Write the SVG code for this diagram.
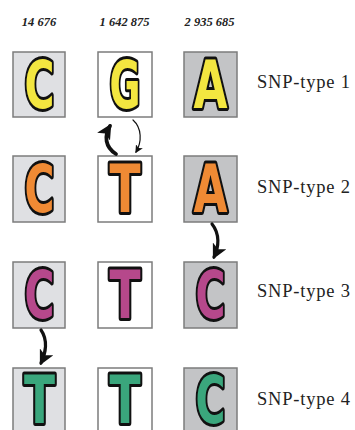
<svg xmlns="http://www.w3.org/2000/svg" width="355" height="430" viewBox="0 0 355 430">
<defs>
<style>
.box{stroke:#7c7c7c;stroke-width:1.5}
.c1{fill:#dfe0e3}
.c2{fill:#ffffff}
.c3{fill:#c3c4c6}
.let{font-family:"DejaVu Sans",sans-serif;font-weight:bold;font-size:66px;text-anchor:middle;stroke:#111;stroke-width:6;stroke-linejoin:round;paint-order:stroke}
.y{fill:#f3e640}
.o{fill:#ef8a34}
.m{fill:#b6488b}
.g{fill:#3aa67c}
.pos{font-weight:bold;font-style:italic;font-size:12.5px;text-anchor:middle;fill:#222}
.lab{font-size:18.5px;fill:#222}
.arr{fill:none;stroke:#111;stroke-linecap:round}
</style>
<marker id="hd" markerUnits="userSpaceOnUse" markerWidth="15" markerHeight="15" viewBox="0 0 12 12" refX="10" refY="6" orient="auto">
<path d="M0,0 L12,6 L0,12 L3,6 z" fill="#111"/>
</marker>
<marker id="hs" markerUnits="userSpaceOnUse" markerWidth="8" markerHeight="8" viewBox="0 0 12 12" refX="10" refY="6" orient="auto">
<path d="M0,0 L12,6 L0,12 L3,6 z" fill="#111"/>
</marker>
</defs>
<rect width="355" height="430" fill="#ffffff"/>
<g id="positions" font-family="'Liberation Serif', 'Times New Roman', 'DejaVu Serif', serif">
<text class="pos" x="39" y="26">14 676</text>
<text class="pos" x="124.5" y="26">1 642 875</text>
<text class="pos" x="209.5" y="26">2 935 685</text>
</g>
<g id="row1">
<g id="r1c1"><rect class="box c1" x="13" y="52" width="52" height="65"/><text class="let y" x="39.5" y="108" textLength="30" lengthAdjust="spacingAndGlyphs">C</text></g>
<g id="r1c2"><rect class="box c2" x="98" y="52" width="54" height="65"/><text class="let y" x="125" y="108" textLength="31" lengthAdjust="spacingAndGlyphs">G</text></g>
<g id="r1c3"><rect class="box c3" x="184" y="52" width="53" height="65"/><text class="let y" x="210.5" y="108" textLength="34" lengthAdjust="spacingAndGlyphs">A</text></g>
<text class="lab" font-family="'Liberation Serif', 'Times New Roman', 'DejaVu Serif', serif" x="257" y="88" textLength="93" lengthAdjust="spacing">SNP-type 1</text>
</g>
<g id="row2">
<g id="r2c1"><rect class="box c1" x="13" y="156" width="52" height="66"/><text class="let o" x="39.5" y="212" textLength="30" lengthAdjust="spacingAndGlyphs">C</text></g>
<g id="r2c2"><rect class="box c2" x="98" y="156" width="54" height="66"/><text class="let o" x="125" y="212" textLength="31" lengthAdjust="spacingAndGlyphs">T</text></g>
<g id="r2c3"><rect class="box c3" x="184" y="156" width="53" height="66"/><text class="let o" x="210.5" y="212" textLength="34" lengthAdjust="spacingAndGlyphs">A</text></g>
<text class="lab" font-family="'Liberation Serif', 'Times New Roman', 'DejaVu Serif', serif" x="257" y="193" textLength="93" lengthAdjust="spacing">SNP-type 2</text>
</g>
<g id="row3">
<g id="r3c1"><rect class="box c1" x="13" y="262" width="52" height="66"/><text class="let m" x="39.5" y="318" textLength="30" lengthAdjust="spacingAndGlyphs">C</text></g>
<g id="r3c2"><rect class="box c2" x="98" y="262" width="54" height="66"/><text class="let m" x="125" y="318" textLength="31" lengthAdjust="spacingAndGlyphs">T</text></g>
<g id="r3c3"><rect class="box c3" x="184" y="262" width="53" height="66"/><text class="let m" x="210.5" y="318" textLength="30" lengthAdjust="spacingAndGlyphs">C</text></g>
<text class="lab" font-family="'Liberation Serif', 'Times New Roman', 'DejaVu Serif', serif" x="257" y="297" textLength="93" lengthAdjust="spacing">SNP-type 3</text>
</g>
<g id="row4">
<g id="r4c1"><rect class="box c1" x="13" y="368" width="52" height="66"/><text class="let g" x="39.5" y="423" textLength="31" lengthAdjust="spacingAndGlyphs">T</text></g>
<g id="r4c2"><rect class="box c2" x="98" y="368" width="54" height="66"/><text class="let g" x="125" y="423" textLength="31" lengthAdjust="spacingAndGlyphs">T</text></g>
<g id="r4c3"><rect class="box c3" x="184" y="368" width="53" height="66"/><text class="let g" x="210.5" y="423" textLength="30" lengthAdjust="spacingAndGlyphs">C</text></g>
<text class="lab" font-family="'Liberation Serif', 'Times New Roman', 'DejaVu Serif', serif" x="257" y="405" textLength="93" lengthAdjust="spacing">SNP-type 4</text>
</g>
<g id="connectors">
<path class="arr" d="M116,154 C105,147 104,136 110,126" stroke-width="3.8" marker-end="url(#hd)"/>
<path class="arr" d="M133,120 C142,128 142,142 136,152" stroke-width="1.2" marker-end="url(#hs)"/>
<path class="arr" d="M212,224 C220,234 219,247 214,257" stroke-width="3.2" marker-end="url(#hd)"/>
<path class="arr" d="M41,330 C48,340 46,353 41,363" stroke-width="3.2" marker-end="url(#hd)"/>
</g>
</svg>
